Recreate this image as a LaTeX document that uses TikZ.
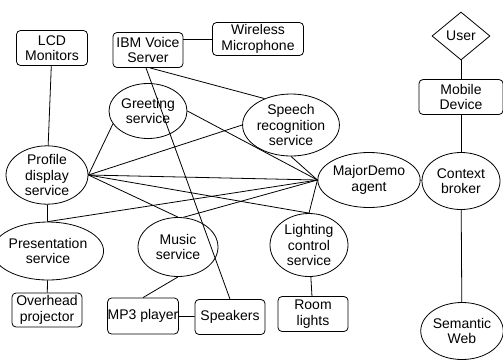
\documentclass[tikz,border=0pt]{standalone}
\usepackage{fontspec}
\setmainfont{Liberation Sans}
\usetikzlibrary{shapes.geometric}
\tikzset{
  dev/.style={draw,rounded corners=4pt,align=center,inner sep=0pt,minimum width=70pt,minimum height=35pt},
  svc/.style={draw,ellipse,align=center,inner sep=0pt,minimum width=78pt,minimum height=58pt},
}
\begin{document}
\begin{tikzpicture}[x=1pt,y=-1pt,line width=0.8pt,font=\fontsize{14}{15.5}\selectfont]
\useasboundingbox (0,0) rectangle (503,360);
% devices
\node[dev,minimum width=71pt] (lcd) at (52,48) {LCD\\Monitors};
\node[dev] (ibm) at (148,50) {IBM Voice\\Server};
\node[dev,minimum width=91pt,minimum height=33pt] (mic) at (258,39) {Wireless\\Microphone};
\node[draw,diamond,inner sep=0pt,minimum width=58pt,minimum height=48pt] (user) at (461,36) {User};
\node[dev,minimum width=84pt] (mobile) at (461,97) {Mobile\\Device};
\node[dev,minimum height=34pt] (overhead) at (47,310) {Overhead\\projector};
\node[dev,minimum height=36pt] (mp3) at (143,316) {MP3 player};
\node[dev] (speakers) at (230,317) {Speakers};
\node[dev] (room) at (313,314) {Room\\lights};
% services
\node[svc,minimum height=55pt] (greet) at (148,111) {Greeting\\service};
\node[svc,minimum height=62pt] (speech) at (291,125) {Speech\\recognition\\service};
\node[svc,minimum width=82pt,minimum height=56pt] (profile) at (47,175) {Profile\\display\\service};
\node[svc,minimum height=55pt] (major) at (369,180) {MajorDemo\\agent};
\node[svc,minimum height=57pt] (context) at (461,181) {Context\\broker};
\node[svc,minimum width=80pt] (present) at (48,251) {Presentation\\service};
\node[svc,minimum width=80pt,minimum height=59pt] (music) at (178,247) {Music\\service};
\node[svc,minimum height=63pt] (light) at (309,245) {Lighting\\control\\service};
\node[svc,minimum width=80pt,minimum height=57pt] (semweb) at (462,331) {Semantic\\Web};
% connections
\draw (lcd) -- (profile);
\draw (mic.west) -- (mic.west -| ibm.east);
\draw ([xshift=-2pt]ibm.south) -- (speakers.north);
\draw ([xshift=2pt]ibm.south) -- (speech.135);
\draw (profile.east) -- (greet.200);
\draw (greet.east) -- (major.west);
\draw (profile.east) -- (speech.west);
\draw (speech.south) -- (major.west);
\draw (profile.east) -- (major.west);
\draw (profile.east) -- (music.north);
\draw (profile.east) -- (light.north);
\draw (present.north) -- (major.west);
\draw (music.80) -- (major.west);
\draw (light.north) -- (major.west);
\draw (profile) -- (present);
\draw (present) -- (overhead);
\draw (music.south) -- (mp3.north);
\draw (mp3) -- (speakers);
\draw (light) -- (room);
\draw (major) -- (context);
\draw (context) -- (mobile);
\draw (mobile) -- (user);
\draw (context) -- (semweb);
\end{tikzpicture}
\end{document}
